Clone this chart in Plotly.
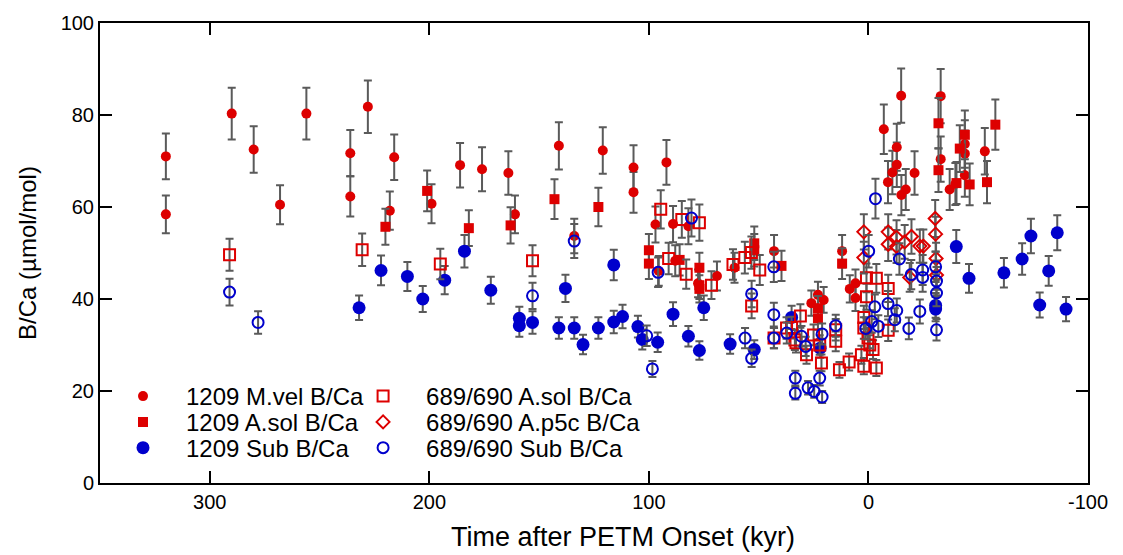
import plotly.graph_objects as go

# ---------------- data ----------------
mvel_x = [320, 320, 290, 280, 268, 256, 236, 236, 228, 216, 218, 199, 186, 176, 164, 161, 141, 134, 121, 107, 107,
          92, 97, 89, 82, 95.5, 88, 77.6, 69, 61, 43, 12, 8.5, 5.9, 5.9, 23, 20.4, 26,
          -7, -14.9, -12.9, -12.9, -10.9, -8.9, -21, -17, -15, -32.9, -32.9, -37, -39.6, -43.9, -43.9, -43.9, -53]
mvel_y = [71.0, 58.4, 80.3, 72.5, 60.5, 80.3, 71.7, 62.3, 81.8, 70.8, 59.2, 60.7, 69.1, 68.2, 67.4, 58.4, 73.3, 53.7, 72.3, 68.6, 63.2,
          69.7, 56.2, 56.3, 55.8, 46.1, 48.3, 43.4, 45.0, 46.8, 50.4, 50.4, 42.2, 43.4, 40.2, 40.9, 39.8, 39.1,
          76.9, 84.2, 73.0, 69.2, 67.5, 65.4, 67.4, 63.8, 62.6, 84.1, 70.4, 63.8, 65.0, 73.7, 71.6, 66.9, 72.1]

asol1209_x = [220, 201, 182, 163, 143, 123, 100, 100, 86, 77, 77, 77, 52, 52, 39.6, 23, 23, 12,
              -31.9, -31.9, -43.9, -41.6, -40.1, -46.1, -54, -57.8]
asol1209_y = [55.7, 63.5, 55.4, 56.0, 61.7, 60.0, 50.6, 47.7, 48.5, 46.8, 43.0, 42.2, 52.1, 50.6, 47.2, 38.0, 35.8, 47.7,
              78.2, 68.0, 75.7, 72.7, 65.2, 64.9, 65.4, 77.9]

sub1209_x = [232, 222, 210, 203, 193, 184, 172, 159, 159, 153, 141, 138, 134, 130, 123, 116, 116, 112, 105, 103,
             96, 89, 82, 77, 75, 63, 52, 35, 22, -30.6, -30.6, -40, -45.8, -61.7, -70, -74, -78, -82.1, -86, -90]
sub1209_y = [38.1, 46.2, 44.9, 40.0, 44.1, 50.4, 41.9, 35.8, 34.2, 34.9, 33.7, 42.3, 33.7, 30.1, 33.7, 35.0, 47.4, 36.2, 34.0, 31.2,
             30.6, 36.7, 31.9, 28.8, 38.1, 30.2, 29.0, 36.0, 29.3, 38.6, 37.8, 51.4, 44.5, 45.7, 48.7, 53.7, 38.7, 46.1, 54.4, 37.8]

asol690_x = [291, 230.6, 195, 153, 94.6, 85, 77, 91, 83, 71.5, 61.7, 56.3, 53.3, 49.5, 53.2, 43, 37.3, 33.5, 31, 35, 33,
             28.2, 25, 22.2, 21.4, 14.9, 14.9, 13.2, 8.8, 2.1, -3.6, 0.9, -3.6, 0.9, -9, 2.1, 2.1, -9, 0.2, -0.6, -2.1, 3.2]
asol690_y = [49.6, 50.7, 47.6, 48.3, 59.5, 57.3, 56.6, 48.8, 45.4, 43.0, 47.5, 49.0, 50.1, 46.3, 38.5, 31.5, 33.7, 31.1, 36.3, 33.8, 30.5,
             27.9, 32.2, 30.0, 26.1, 33.3, 30.8, 24.6, 26.3, 25.4, 25.0, 44.6, 44.5, 40.5, 42.3, 36.0, 33.7, 33.2, 31.5, 30.0, 29.0, 27.9]

ap5c_x = [2.1, 2.1, -9, -9, -12.8, -12.8, -16.5, -19.6, -23.4, -25, -18.8, -30.4, -30.6, -30.8, -31]
ap5c_y = [54.6, 49.0, 54.6, 51.9, 53.4, 51.4, 52.4, 53.6, 51.5, 51.5, 44.7, 57.5, 54.1, 48.8, 45.2]

sub690_x = [291, 278, 153, 134, 101, 98.4, 95.8, 80.6, 56.2, 53.2, 53.2, 43.1, 43.1, 43.1, 37.2, 33.3, 33.3, 30.5, 28.6, 27.5,
            24.7, 22.2, 21.1, 21.1, 14.9, 1.2, -1.5, -2.9, -4.5, -8.9, -12.9, -12, -18.4, -23.4, -3.2, -0.1, -14.1,
            -19.5, -24.7, -24.7, -30.6, -31, -31, -31]
sub690_y = [41.5, 34.9, 40.7, 52.6, 32.0, 24.8, 45.8, 57.6, 31.5, 41.1, 27.1, 47.0, 36.6, 31.5, 32.6, 22.8, 19.5, 31.9, 29.7, 20.7,
            19.9, 22.8, 32.4, 18.7, 34.2, 33.6, 35.1, 38.3, 34.1, 39.0, 37.5, 35.5, 33.6, 37.3, 61.8, 50.4, 48.7,
            45.3, 46.3, 44.7, 47.0, 43.9, 41.3, 33.3]

err_pct = 7  # relative analytical uncertainty (%)

x_ticks = [300, 200, 100, 0, -100]
y_ticks = [0, 20, 40, 60, 80, 100]

RED = "#DD0000"
BLUE = "#0000CC"
ERR = "#5A5A5A"
FONT = "Liberation Sans, Arial, sans-serif"

def err():
    return dict(type="percent", value=err_pct, color=ERR, thickness=2, width=4)

fig = go.Figure()
series = [
    ("1209 M.vel B/Ca", mvel_x, mvel_y, dict(symbol="circle", size=10, color=RED)),
    ("1209 A.sol B/Ca", asol1209_x, asol1209_y, dict(symbol="square", size=10, color=RED)),
    ("1209 Sub B/Ca", sub1209_x, sub1209_y, dict(symbol="circle", size=13, color=BLUE)),
    ("689/690 A.sol B/Ca", asol690_x, asol690_y, dict(symbol="square-open", size=11, color=RED, line=dict(width=2, color=RED))),
    ("689/690 A.p5c B/Ca", ap5c_x, ap5c_y, dict(symbol="diamond-open", size=10, color=RED, line=dict(width=2, color=RED))),
    ("689/690 Sub B/Ca", sub690_x, sub690_y, dict(symbol="circle-open", size=11, color=BLUE, line=dict(width=2, color=BLUE))),
]
legend_names = ["legend", "legend2", "legend3", "legend4", "legend5", "legend6"]
for (name, xs, ys, mk), lg in zip(series, legend_names):
    fig.add_trace(go.Scatter(x=xs, y=ys, mode="markers", name=name, marker=mk,
                             error_y=err(), legend=lg))

axis_common = dict(showline=True, linecolor="black", linewidth=2, mirror="ticks",
                   ticks="inside", ticklen=12, tickwidth=2, tickcolor="black",
                   showgrid=False, zeroline=False,
                   tickfont=dict(family=FONT, size=20, color="black"))

# legend placement: two columns, three rows
col_x = [0.0, 0.243]
row_y = [0.188, 0.132, 0.076]
legends = {}
for i, lg in enumerate(legend_names):
    legends[lg] = dict(x=col_x[i // 3], y=row_y[i % 3], xanchor="left", yanchor="middle",
                       bgcolor="rgba(0,0,0,0)", font=dict(family=FONT, size=24),
                       itemwidth=76, itemsizing="trace", borderwidth=0)

fig.update_layout(
    width=1123, height=555,
    margin=dict(l=100, r=35, t=20, b=72),
    paper_bgcolor="white", plot_bgcolor="white",
    font=dict(family=FONT, color="black"),
    xaxis=dict(range=[350, -100], tickvals=x_ticks, ticktext=[str(v) for v in x_ticks],
               **axis_common),
    yaxis=dict(range=[0, 100], tickvals=y_ticks,
               title=dict(text="B/Ca (µmol/mol)", font=dict(family=FONT, size=24), standoff=17),
               **axis_common),
    showlegend=True,
    annotations=[dict(text="Time after PETM Onset (kyr)", xref="paper", yref="paper",
                      x=0.529, y=-0.118, xanchor="center", yanchor="middle", showarrow=False,
                      font=dict(family=FONT, size=27, color="black"))],
    **legends,
)

fig.write_html("out.html")
